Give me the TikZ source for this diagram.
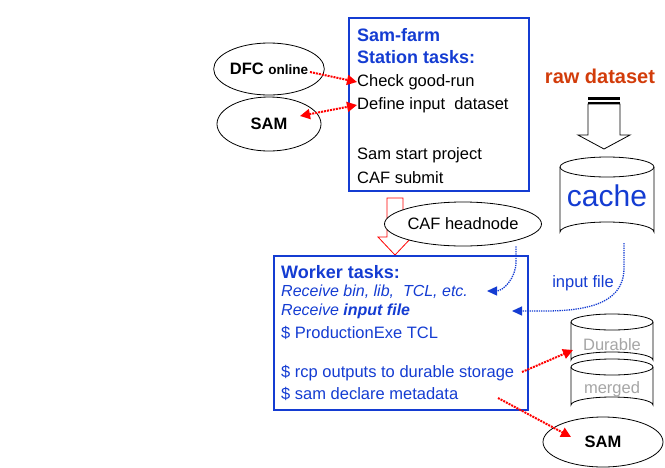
\documentclass[tikz,border=0pt]{standalone}
\usepackage{fontspec}
\setmainfont{Liberation Sans}
\usetikzlibrary{positioning,shapes,arrows.meta}

\definecolor{taskblue}{RGB}{20,60,210}
\definecolor{rawred}{RGB}{210,60,10}

% drum: x, top y, bottom y, half width, radius y
\newcommand{\drumshape}[5]{%
  \draw[thick,fill=white] (#1-#4,#2) -- (#1-#4,#3) arc[start angle=180,end angle=360,x radius=#4,y radius=#5]
    -- (#1+#4,#2);
  \draw[thick] (#1,#2) ellipse[x radius=#4,y radius=#5];
}

\begin{document}
\begin{tikzpicture}[x=1pt,y=-1pt,
  txt/.style={font=\fontsize{16.5}{19}\selectfont,anchor=west,inner sep=0pt},
  oval/.style={draw,thick,ellipse,inner sep=0pt},
  taskbox/.style={draw=taskblue,line width=1.6pt},
  reddot/.style={red,densely dotted,line width=2pt,-{Triangle[length=10pt,width=10pt]}},
  bluedot/.style={taskblue,densely dotted,line width=1.3pt,-{Triangle[length=10pt,width=9pt]}}
]
\useasboundingbox (0,0) rectangle (665,467);

% Station box
\node [taskbox,minimum width=180,minimum height=173,anchor=north west] (station) at (348,17) {};
\node [txt,text=taskblue,font=\fontsize{18}{20}\selectfont\bfseries] (samfarm) at (357,35) {Sam-farm};
\node [txt,text=taskblue,font=\fontsize{18}{20}\selectfont\bfseries] (stationt) at (357,57) {Station tasks:};
\node [txt] (check) at (357,82) {Check good-run};
\node [txt] (define) at (357,105) {Define input\ \ dataset};
\node [txt] (start) at (357,155) {Sam start project};
\node [txt] (submit) at (357,178) {CAF submit};

% Left ovals
\node [oval,minimum width=104,minimum height=52,font=\fontsize{16.5}{19}\selectfont\bfseries] (dfc) at (269,69) {DFC {\fontsize{13.5}{15}\selectfont online}};
\node [oval,minimum width=104,minimum height=54,font=\fontsize{16.5}{19}\selectfont\bfseries] (samleft) at (269,124) {SAM};
\draw [reddot] (310,72) -- (check.west);
\draw [reddot,{Triangle[length=10pt,width=10pt]}-{Triangle[length=10pt,width=10pt]}] (300,116) -- (define.west);

% Hollow red arrow
\draw [red,thick,fill=white] (387,198) -- (403,198) -- (403,237) -- (412,237) -- (395,255)
  -- (378,237) -- (387,237) -- cycle;

% CAF headnode
\node [oval,fill=white,minimum width=156,minimum height=44,font=\fontsize{16.5}{19}\selectfont] (headnode) at (463,224) {CAF headnode};

% Worker box
\node [taskbox,minimum width=254,minimum height=154,anchor=north west] (worker) at (273,255) {};
\node [txt,text=taskblue,font=\fontsize{18}{20}\selectfont\bfseries] (workert) at (281,272) {Worker tasks:};
\node [txt,text=taskblue,font=\fontsize{16}{19}\selectfont\itshape] (receive1) at (281,292) {Receive bin, lib,\ \ TCL, etc.};
\node [txt,text=taskblue,font=\fontsize{16}{19}\selectfont\itshape] (receive2) at (281,311) {Receive \textbf{input file}};
\node [txt,text=taskblue] (prodexe) at (281,333) {\$ ProductionExe TCL};
\node [txt,text=taskblue] (rcp) at (281,373) {\$ rcp outputs to durable storage};
\node [txt,text=taskblue] (declare) at (281,394) {\$ sam declare metadata};

% raw dataset and cache
\node [font=\fontsize{20}{24}\selectfont\bfseries,text=rawred] (raw) at (600,76) {raw dataset};
\draw [thick,fill=white] (588,104) -- (620,104) -- (620,135) -- (630,135) -- (604,149)
  -- (578,135) -- (588,135) -- cycle;
\fill (588,97) rectangle (620,100);
\fill (588,102) rectangle (620,104);
\drumshape{607}{167}{232}{47}{10}
\node [text=taskblue,font=\fontsize{30}{34}\selectfont] (cache) at (607,196) {cache};
\coordinate (cachebot) at (624,243);
\draw [bluedot] (cachebot) -- (624,268) to[out=-90,in=0] (512,311);
\node [text=taskblue,font=\fontsize{16.5}{19}\selectfont] (inputlbl) at (583,283) {input file};
\draw [bluedot] (headnode.south -| 516,0) -- (516,262) to[out=-90,in=0] (487,291);

% Durable / merged
\drumshape{612}{322}{360}{41}{8}
\drumshape{612}{367}{405}{41}{8}
\node [text=gray!70,font=\fontsize{16.5}{19}\selectfont] (durable) at (612,345) {Durable};
\node [text=gray!70,font=\fontsize{16.5}{19}\selectfont] (merged) at (612,389) {merged};
\node [oval,minimum width=120,minimum height=50,font=\fontsize{16.5}{19}\selectfont\bfseries] (samright) at (603,442) {SAM};
\draw [reddot] (522,372) -- (573,350);
\draw [reddot] (498,398) -- (571,437);
\end{tikzpicture}
\end{document}
